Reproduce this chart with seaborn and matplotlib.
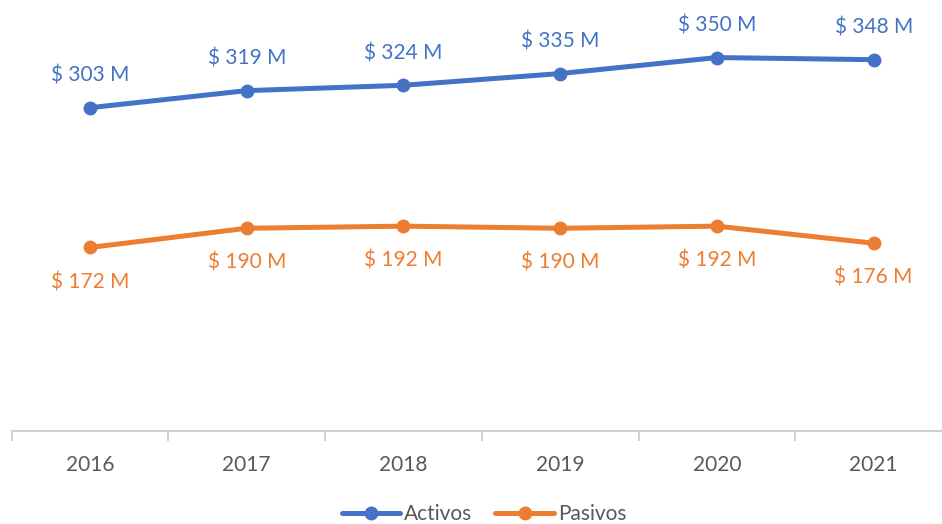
import matplotlib
matplotlib.use("Agg")
import matplotlib.pyplot as plt
import seaborn as sns
import pandas as pd

years = ["2016", "2017", "2018", "2019", "2020", "2021"]
activos = [303, 319, 324, 335, 350, 348]
pasivos = [172, 190, 192, 190, 192, 176]
series_names = ["Activos", "Pasivos"]
colors = ["#4472C4", "#ED7D31"]

df = pd.DataFrame({
    "idx": list(range(len(years))) * 2,
    "value": activos + pasivos,
    "serie": [series_names[0]] * len(years) + [series_names[1]] * len(years),
})

sns.set_theme(style="white")
plt.rcParams["font.family"] = ["Lato", "DejaVu Sans"]

fig = plt.figure(figsize=(9.42, 5.24), dpi=100)
ax = fig.add_axes([11.6 / 942, (524 - 431) / 524, (952 - 11.6) / 942, 426.8 / 524])

sns.lineplot(data=df, x="idx", y="value", hue="serie", palette=colors,
             marker="o", markersize=10, markeredgewidth=0, linewidth=3.6,
             ax=ax, legend=False)

ax.set_xlim(-0.5, len(years) - 0.5)
ax.set_ylim(0, 400)
ax.set_xlabel("")
ax.set_ylabel("")
ax.set_yticks([])
ax.set_xticks(range(len(years)))
ax.set_xticklabels(years, fontsize=15, color="#595959")
ax.tick_params(axis="x", which="major", length=0, pad=17)
# category boundary ticks
ax.set_xticks([i - 0.5 for i in range(len(years) + 1)], minor=True)
ax.tick_params(axis="x", which="minor", bottom=True, length=7, width=1.2,
               color="#C8C8C8", direction="out")
for s in ["top", "right", "left"]:
    ax.spines[s].set_visible(False)
ax.spines["bottom"].set_color("#D0D0D0")
ax.spines["bottom"].set_linewidth(1.5)

for i, v in enumerate(activos):
    ax.annotate(f"$ {v} M", (i, v), xytext=(0, 23), textcoords="offset points",
                ha="center", va="center", fontsize=15, color=colors[0])
for i, v in enumerate(pasivos):
    ax.annotate(f"$ {v} M", (i, v), xytext=(0, -25), textcoords="offset points",
                ha="center", va="center", fontsize=15, color=colors[1])

handles = [plt.Line2D([], [], color=c, marker="o", markersize=10, markeredgewidth=0, linewidth=3.6)
           for c in colors]
leg = fig.legend(handles, series_names, loc="center", bbox_to_anchor=(484 / 942, 1 - 514 / 524),
                 ncol=2, frameon=False, fontsize=15, handlelength=2.8, handletextpad=0.2,
                 columnspacing=1.1, borderaxespad=0)
for t in leg.get_texts():
    t.set_color("#595959")

fig.savefig("out.png", dpi=100)
